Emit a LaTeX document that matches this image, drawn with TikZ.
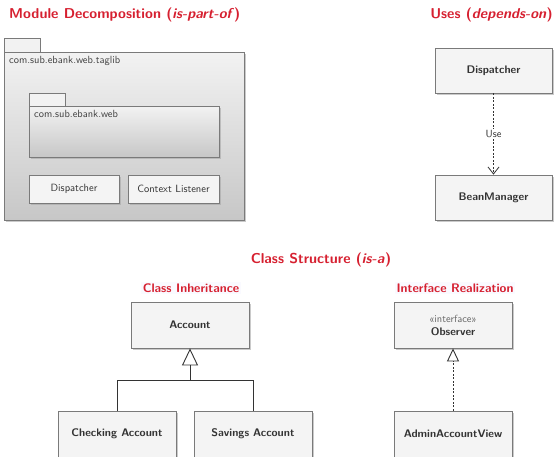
\documentclass[tikz,border=0pt]{standalone}
\usepackage{fontspec}
\renewcommand{\familydefault}{\sfdefault}
\usepackage{tikz}
\usetikzlibrary{arrows.meta, shadows, calc}

\definecolor{titlered}{HTML}{D62030}
\definecolor{boxfill}{HTML}{F4F4F4}
\definecolor{boxline}{HTML}{7A7A7A}
\definecolor{boxtext}{HTML}{333333}

\tikzset{
    umlbox/.style={draw=boxline, fill=boxfill, line width=0.8pt, text=boxtext,
        font=\fontsize{11}{13}\selectfont\bfseries, align=center,
        minimum height=46pt, drop shadow={shadow xshift=2pt, shadow yshift=-2pt, fill=black!35, opacity=0.6}},
    smallbox/.style={umlbox, font=\fontsize{10.5}{12}\selectfont, minimum height=28pt},
    pkg/.style={draw=boxline, line width=0.8pt, top color=black!5, bottom color=black!22,
        drop shadow={shadow xshift=2pt, shadow yshift=-2pt, fill=black!35, opacity=0.6}},
    pkgtab/.style={draw=boxline, line width=0.8pt, fill=black!5},
    pkglabel/.style={anchor=north west, text=black!75, font=\fontsize{10.4}{12}\selectfont, inner sep=0pt},
    heading/.style={text=titlered, font=\fontsize{14.3}{17}\selectfont\bfseries, inner sep=0pt},
    subheading/.style={text=titlered, font=\fontsize{12.4}{14}\selectfont\bfseries, fill=blue!2, inner sep=2pt},
    connector/.style={draw=black!80, line width=0.9pt},
    dotline/.style={connector, dash pattern=on 2pt off 1.5pt}
}

\begin{document}
\begin{tikzpicture}[x=1pt, y=-1pt]
        \useasboundingbox (0,0) rectangle (556,456);
        \clip (0,0) rectangle (556,456);

        \node[heading, anchor=west] (modtitle) at (9,15) {Module Decomposition (\textit{is-part-of})};
        \node[heading, anchor=east] (usetitle) at (553,15) {Uses (\textit{depends-on})};
        \node[heading] (clstitle) at (321,260) {Class Structure (\textit{is-a})};
        \node[subheading] (inhtitle) at (191,288) {Class Inheritance};
        \node[subheading] (reatitle) at (455,288) {Interface Realization};

        \draw[pkgtab] (4,38) rectangle (40,52);
        \draw[pkg] (4,52) rectangle (244,220);
        \node[pkglabel] (outerlbl) at (9,56) {com.sub.ebank.web.taglib};

        \draw[pkgtab] (29,93) rectangle (65,106);
        \draw[pkg] (29,106) rectangle (219,157);
        \node[pkglabel] (innerlbl) at (34,110) {com.sub.ebank.web};

        \node[smallbox, minimum width=90pt] (mdisp) at (74,189) {Dispatcher};
        \node[smallbox, minimum width=91pt] (mctx) at (173.5,189) {Context Listener};

        \node[umlbox, minimum width=117pt, minimum height=45pt] (udisp) at (493.5,70.5) {Dispatcher};
        \node[umlbox, minimum width=117pt, minimum height=45pt] (ubean) at (493.5,197.5) {BeanManager};
        \draw[dotline, -{Straight Barb[length=7pt, width=11pt, line width=0.8pt]}] (udisp) -- node[fill=white, text=boxtext, inner sep=1.5pt, font=\fontsize{10.4}{12}\selectfont] (uselbl) {Use} (ubean);

        \node[umlbox, minimum width=118pt] (acc) at (190,325) {Account};
        \node[umlbox, minimum width=118pt] (chk) at (117,434) {Checking Account};
        \node[umlbox, minimum width=118pt] (sav) at (253,434) {Savings Account};
        \coordinate (join) at (190,380);
        \draw[connector] (chk.north) |- (join) -| (sav.north);
        \draw[connector, -{Triangle[open, length=17pt, width=16pt, line width=0.9pt]}] (join) -- (acc.south);

        \node[umlbox, minimum width=118pt] (obs) at (453,325) {{\fontsize{10.4}{12}\selectfont\mdseries\color{black!60}«interface»}\\Observer};
        \node[umlbox, minimum width=118pt] (adm) at (453,434) {AdminAccountView};
        \draw[dotline, -{Triangle[open, length=13pt, width=12pt, line width=0.9pt]}] (adm.north) -- (obs.south);
    \end{tikzpicture}
\end{document}
